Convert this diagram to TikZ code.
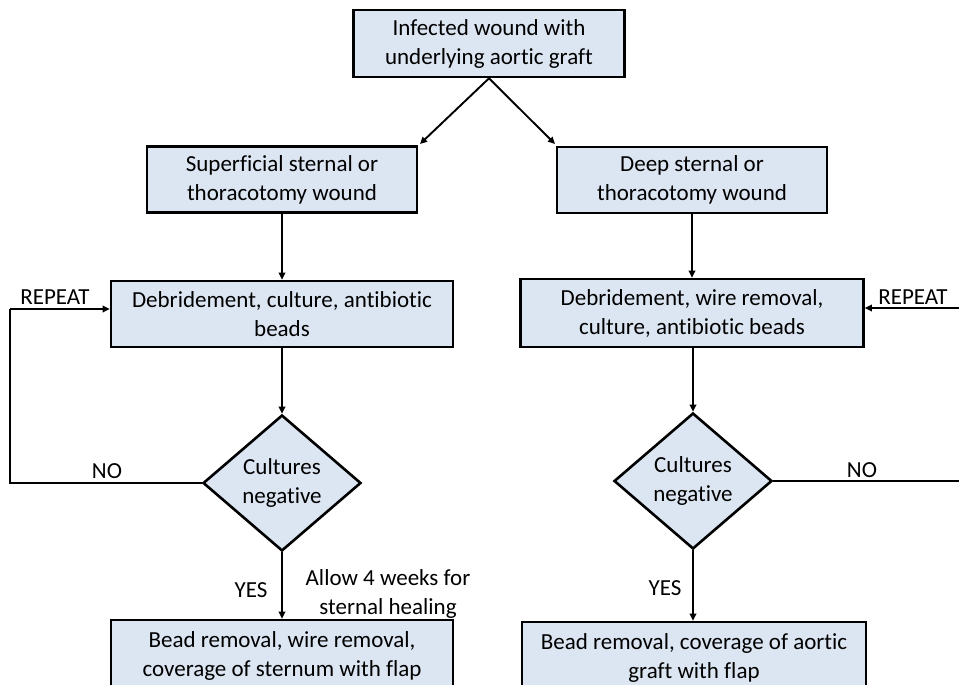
\documentclass[tikz,border=0pt]{standalone}
\usepackage{fontspec}
\setmainfont{Carlito}[Ligatures={NoCommon}]
\usetikzlibrary{shapes.geometric,arrows.meta,calc}
\definecolor{boxfill}{HTML}{DCE6F2}
\begin{document}
\begin{tikzpicture}[x=1pt,y=-1pt,
  every node/.style={font=\fontsize{23}{29}\selectfont},
  box/.style={draw=black,fill=boxfill,line width=2.6pt,align=center,inner sep=0pt},
  dia/.style={diamond,draw=black,fill=boxfill,line width=2.6pt,align=center,inner sep=0pt,minimum width=158pt,minimum height=136pt},
  arr/.style={line width=1.9pt,-{Triangle[length=7pt,width=6.5pt]}},
  ln/.style={line width=1.9pt},
  lbl/.style={inner sep=0pt,align=center}]
\useasboundingbox (0,0) rectangle (959,685);
\clip (0,0) rectangle (959,685);
\node[box,minimum width=271pt,minimum height=67pt] (top) at (489,43.5) {Infected wound with\\underlying aortic graft};
\node[box,minimum width=270pt,minimum height=66pt] (sup) at (282,179.5) {Superficial sternal or\\thoracotomy wound};
\node[box,minimum width=270pt,minimum height=66pt] (deep) at (692,180) {Deep sternal or\\thoracotomy wound};
\node[box,minimum width=342pt,minimum height=66pt] (debL) at (282,314) {Debridement, culture, antibiotic\\beads};
\node[box,minimum width=343pt,minimum height=68pt] (debR) at (692,313) {Debridement, wire removal,\\culture, antibiotic beads};
\node[dia] (diaL) at (282,483) {Cultures\\negative};
\node[dia] (diaR) at (693,481) {Cultures\\negative};
\node[box,minimum width=342pt,minimum height=72pt] (botL) at (282,656) {Bead removal, wire removal,\\coverage of sternum with flap};
\node[box,minimum width=344pt,minimum height=72pt] (botR) at (694,658) {Bead removal, coverage of aortic\\graft with flap};
% labels
\node[lbl] (rpL) at (55,297) {REPEAT};
\node[lbl] (noL) at (107,471) {NO};
\node[lbl] (yesL) at (251,590) {YES};
\node[lbl] (allow) at (388,594) {Allow 4 weeks for\\sternal healing};
\node[lbl] (rpR) at (913,297) {REPEAT};
\node[lbl] (noR) at (862,470) {NO};
\node[lbl] (yesR) at (665,588) {YES};
% coordinates
\coordinate (lxb) at (10,483);
\coordinate (lxt) at (10,309);
\coordinate (rxb) at (962,481);
\coordinate (rxt) at (962,308);
\coordinate (supTip) at (420,144);
\coordinate (deepTip) at (555,144);
% connectors
\draw[arr] (top.south) -- (supTip);
\draw[arr] (top.south) -- (deepTip);
\draw[arr] (sup.south) -- (debL.north);
\draw[arr] (deep.south) -- (debR.north);
\draw[arr] (debL.south) -- (diaL.north);
\draw[arr] (diaR.north |- debR.south) -- (diaR.north);
\draw[arr] (diaL.south) -- (botL.north);
\draw[arr] (diaR.south) -- (diaR.south |- botR.north);
\draw[ln] (diaL.west) -- (lxb) -- (lxt);
\draw[arr] (lxt) -- (lxt -| debL.west);
\draw[ln] (diaR.east) -- (rxb);
\draw[arr] (rxt) -- (rxt -| debR.east);
\end{tikzpicture}
\end{document}
